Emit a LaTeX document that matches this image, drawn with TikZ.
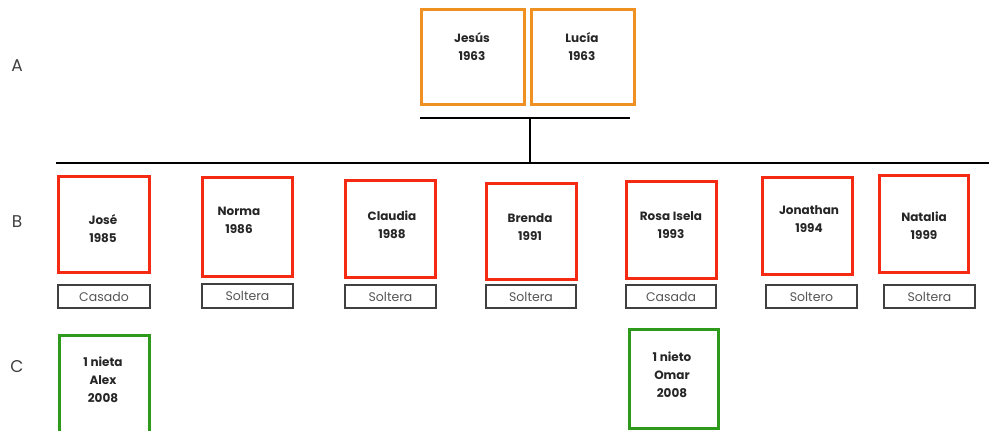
\documentclass[tikz,border=0pt]{standalone}
\usepackage{fontspec}
\setmainfont{Poppins}
\usetikzlibrary{calc}
\definecolor{orangebox}{HTML}{EE9122}
\definecolor{redbox}{HTML}{F52A12}
\definecolor{greenbox}{HTML}{2E9A1C}
\definecolor{statusgray}{HTML}{555555}
\tikzset{
  pbox/.style={draw=#1, line width=3pt, fill=white, inner sep=0pt},
  ptext/.style={font=\fontsize{12}{18}\selectfont\bfseries, align=center, inner sep=0pt, text=black!85},
  status/.style={draw=black!75, line width=1.3pt, inner sep=0pt, text=statusgray,
    font=\fontsize{12.5}{14}\selectfont},
  gen/.style={font=\fontsize{17}{20}\selectfont, text=black!75, inner sep=0pt},
  bar/.style={line width=2pt, black}
}
\newcommand{\pbx}[6]{% name, color, x1, y1, x2, y2
  \node[pbox=#2, minimum width={#5-#3}, minimum height={#6-#4}] (#1) at ({(#3+#5)/2},{(#4+#6)/2}) {};}
\newcommand{\sbx}[6]{% name, text, x1, y1, x2, y2
  \node[status, minimum width={#5-#3}, minimum height={#6-#4}] (#1) at ({(#3+#5)/2},{(#4+#6)/2}) {#2};}
\begin{document}
\begin{tikzpicture}[x=1pt,y=-1pt]
\useasboundingbox (0,0) rectangle (989,431);
% generation labels
\node[gen] (lA) at (17,66) {A};
\node[gen] (lB) at (17,222) {B};
\node[gen] (lC) at (17,367) {C};
% parents
\pbx{jesus}{orangebox}{421}{9}{524}{104}
\pbx{lucia}{orangebox}{531}{9}{634}{104}
\node[ptext] (tjesus) at (472,47) {Jesús\\1963};
\node[ptext] (tlucia) at (582,47) {Lucía\\1963};
% bars
\coordinate (pl) at (420,118);
\coordinate (pr) at (630,118);
\coordinate (pm) at (530,118);
\coordinate (cm) at (530,163);
\coordinate (cl) at (56,163);
\coordinate (cr) at (989,163);
\draw[bar] (pl) -- (pr);
\draw[bar] (pm) -- (cm);
\draw[bar] (cl) -- (cr);
% children
\pbx{jose}{redbox}{58}{176}{149}{272}
\pbx{norma}{redbox}{202}{177}{292}{276}
\pbx{claudia}{redbox}{345}{180}{435}{277}
\pbx{brenda}{redbox}{486}{183}{576}{279}
\pbx{rosa}{redbox}{626}{181}{716}{278}
\pbx{jonathan}{redbox}{762}{177}{852}{274}
\pbx{natalia}{redbox}{879}{175}{968}{272}
\node[ptext] (tjose) at (103,229) {José\\1985};
\node[ptext] (tnorma) at (239,220) {Norma\\1986};
\node[ptext] (tclaudia) at (392,225) {Claudia\\1988};
\node[ptext] (tbrenda) at (530,227) {Brenda\\1991};
\node[ptext] (trosa) at (671,225) {Rosa Isela\\1993};
\node[ptext] (tjonathan) at (809,219) {Jonathan\\1994};
\node[ptext] (tnatalia) at (924,226) {Natalia\\1999};
% status
\sbx{sjose}{Casado}{58}{285}{150}{308}
\sbx{snorma}{Soltera}{202}{284}{293}{308}
\sbx{sclaudia}{Soltera}{345}{285}{436}{308}
\sbx{sbrenda}{Soltera}{486}{285}{576}{308}
\sbx{srosa}{Casada}{626}{285}{716}{308}
\sbx{sjonathan}{Soltero}{766}{285}{857}{308}
\sbx{snatalia}{Soltera}{884}{285}{975}{308}
% grandchildren
\pbx{alex}{greenbox}{59}{335}{149}{436}
\pbx{omar}{greenbox}{629}{329}{718}{428}
\node[ptext] (talex) at (103,380) {1 nieta\\Alex\\2008};
\node[ptext] (tomar) at (672,375) {1 nieto\\Omar\\2008};
\end{tikzpicture}
\end{document}
